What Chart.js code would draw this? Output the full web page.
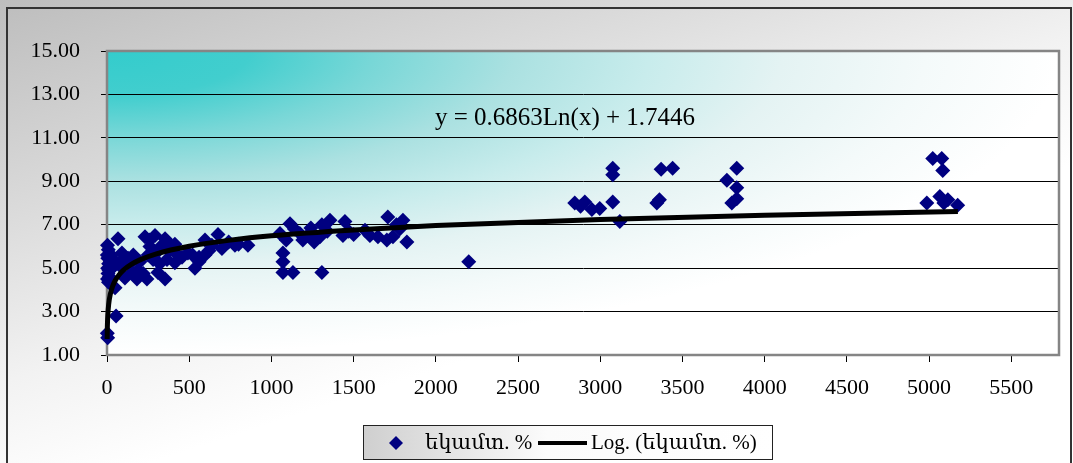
<!DOCTYPE html>
<html>
<head>
<meta charset="utf-8">
<script src="https://cdn.jsdelivr.net/npm/chart.js@4.4.0/dist/chart.umd.min.js"></script>
<style>
  html, body { margin: 0; padding: 0; background: #fff; }
  #wrap { width: 1073px; height: 463px; }
</style>
</head>
<body>
<div id="wrap"><canvas id="chart" width="1073" height="463"></canvas></div>
<script>
// scatter values
const incomeX = [
  3, 8, 2, 5, 10, 4, 12, 6, 3, 9, 15, 20, 25, 49, 55, 2, 4, 30, 40,
  67, 91, 110, 128, 152, 109, 182, 243, 188, 80, 140, 160, 200, 220,
  231, 260, 292, 353, 261, 334, 413, 280, 365, 353, 310, 456, 492, 413, 300, 380, 430, 320, 250, 370,
  535, 560, 596, 596, 638, 675, 699, 778, 857, 620, 560, 520, 740, 800,
  1052, 1070, 1070, 1070, 1131, 1113, 1090, 1173, 1191, 1240, 1260, 1295, 1307, 1356, 1307, 1340,
  1447, 1435, 1470, 1500, 1569, 1599, 1648, 1702, 1708, 1739, 1760, 1800, 1824, 1780, 1140, 1220,
  2200,
  2845, 2880, 2906, 2949, 2997, 3076, 3076, 3076, 3119,
  3344, 3360, 3370, 3440,
  3770, 3800, 3830, 3830, 3830,
  4986, 5022, 5077, 5083, 5065, 5114, 5174, 5090
]
const incomeY = [
  6.05, 5.85, 5.6, 5.45, 5.2, 5.0, 4.9, 4.75, 4.5, 4.35, 4.6, 5.3, 5.6, 4.1, 2.8, 2.0, 1.8, 5.0, 5.4,
  6.35, 5.7, 5.5, 5.45, 4.8, 4.55, 4.5, 4.5, 4.9, 5.1, 5.2, 5.6, 5.3, 4.75,
  6.45, 6.3, 6.5, 6.35, 6.0, 6.05, 6.1, 5.4, 5.4, 4.5, 4.8, 5.5, 5.7, 5.25, 5.7, 5.8, 5.6, 5.2, 5.6, 6.2,
  5.0, 5.3, 6.3, 5.6, 6.05, 6.55, 5.9, 6.05, 6.05, 5.8, 5.5, 5.6, 6.2, 6.1,
  6.6, 5.7, 5.3, 4.8, 4.8, 7.05, 6.3, 6.6, 6.3, 6.85, 6.2, 6.45, 7.0, 7.2, 4.8, 6.7,
  7.15, 6.5, 6.7, 6.55, 6.75, 6.5, 6.45, 6.3, 7.35, 6.45, 7.0, 7.2, 6.2, 6.8, 6.8, 6.5,
  5.3,
  8.0, 7.85, 8.05, 7.7, 7.75, 8.05, 9.6, 9.3, 7.15,
  8.0, 8.15, 9.55, 9.6,
  9.05, 8.0, 8.2, 8.7, 9.6,
  8.0, 10.05, 10.05, 9.5, 8.3, 8.15, 7.9, 8.0
]

// log trendline
const trendX = [1, 2, 3, 5, 10, 20, 35, 50, 75, 100, 150, 200, 300, 500, 750, 1000, 1500, 2000, 3000, 4000, 5175]
const trendY = [1.74, 2.22, 2.50, 2.85, 3.33, 3.80, 4.18, 4.43, 4.71, 4.91, 5.18, 5.38, 5.66, 6.01, 6.29, 6.49, 6.76, 6.96, 7.24, 7.44, 7.61]

const yTicks = [1, 3, 5, 7, 9, 11, 13, 15]
const xTicks = [0, 500, 1000, 1500, 2000, 2500, 3000, 3500, 4000, 4500, 5000, 5500]

const seriesLabel = 'եկամտ. %'
const trendLabel = 'Log. (եկամտ. %)'
const equation = 'y = 0.6863Ln(x) + 1.7446'

const FONT = "'Liberation Serif', 'DejaVu Serif', serif"
const NAVY = '#000080'

const toPoints = (xs, ys) => xs.map((x, i) => ({ x, y: ys[i] }))

const diamond = (ctx, x, y, r) => {
  ctx.beginPath()
  ctx.moveTo(x, y - r)
  ctx.lineTo(x + r, y)
  ctx.lineTo(x, y + r)
  ctx.lineTo(x - r, y)
  ctx.closePath()
  ctx.fill()
}

const backdrop = {
  id: 'backdrop',
  beforeDraw(chart) {
    const { ctx, width, height, chartArea: a } = chart
    ctx.save()
    // outer area
    const g = ctx.createLinearGradient(0, 0, 150, height)
    g.addColorStop(0, '#bdbdbd')
    g.addColorStop(0.4, '#d9d9d9')
    g.addColorStop(0.75, '#f2f2f2')
    g.addColorStop(1, '#ffffff')
    ctx.fillStyle = g
    ctx.fillRect(0, 0, width, height)
    ctx.strokeStyle = '#333'
    ctx.lineWidth = 2
    ctx.strokeRect(7, 8, width - 9, height + 10)

    // plot area: "from corner" fill, stretched to the box
    const W = a.right - a.left
    const H = a.bottom - a.top
    ctx.translate(a.left, a.top)
    ctx.scale(W / H, 1)
    const p = ctx.createRadialGradient(0, 0, 0, 0, 0, H)
    p.addColorStop(0, '#33cccc')
    p.addColorStop(0.15, '#42cece')
    p.addColorStop(0.28, '#78d7d7')
    p.addColorStop(0.43, '#abe1e1')
    p.addColorStop(0.57, '#c8ecec')
    p.addColorStop(0.71, '#e4f3f3')
    p.addColorStop(0.86, '#f4fafa')
    p.addColorStop(1, '#ffffff')
    ctx.fillStyle = p
    ctx.fillRect(0, 0, H, H)
    ctx.restore()
  },
  beforeDatasetsDraw(chart) {
    const { ctx, chartArea: a } = chart
    ctx.save()
    ctx.strokeStyle = '#858585'
    ctx.lineWidth = 2.5
    ctx.strokeRect(a.left, a.top, a.right - a.left, a.bottom - a.top)
    ctx.restore()
  },
  afterDraw(chart) {
    const { ctx } = chart
    ctx.save()
    ctx.textBaseline = 'middle'
    ctx.fillStyle = '#000'
    ctx.font = '25px ' + FONT
    ctx.fillText(equation, 435, 118)

    // legend box
    const lg = ctx.createLinearGradient(363, 0, 772, 0)
    lg.addColorStop(0, '#cfcfcf')
    lg.addColorStop(0.45, '#fbfbfb')
    lg.addColorStop(1, '#ffffff')
    ctx.fillStyle = lg
    ctx.fillRect(363, 425, 409, 34)
    ctx.strokeStyle = '#222'
    ctx.lineWidth = 1
    ctx.strokeRect(363.5, 425.5, 409, 34)

    ctx.font = '21px ' + FONT
    ctx.fillStyle = NAVY
    diamond(ctx, 396, 443, 7)
    ctx.fillStyle = '#000'
    ctx.fillText(seriesLabel, 425, 443)
    ctx.strokeStyle = '#000'
    ctx.lineWidth = 4
    ctx.beginPath()
    ctx.moveTo(538, 443)
    ctx.lineTo(587, 443)
    ctx.stroke()
    ctx.fillText(trendLabel, 591, 443)
    ctx.restore()
  }
}

new Chart(document.getElementById('chart'), {
  type: 'scatter',
  data: {
    datasets: [
      {
        label: seriesLabel,
        data: toPoints(incomeX, incomeY),
        pointStyle: 'rectRot',
        pointRadius: 7.5,
        pointHoverRadius: 7.5,
        backgroundColor: NAVY,
        borderColor: NAVY,
        borderWidth: 0,
        clip: false,
        order: 2
      },
      {
        label: trendLabel,
        type: 'line',
        data: toPoints(trendX, trendY),
        showLine: true,
        borderColor: '#000',
        borderWidth: 5,
        pointRadius: 0,
        cubicInterpolationMode: 'monotone',
        fill: false,
        clip: false,
        order: 1
      }
    ]
  },
  options: {
    responsive: false,
    animation: false,
    layout: { padding: { left: 0, top: 51, right: 14, bottom: 0 } },
    plugins: {
      legend: { display: false },
      tooltip: { enabled: false }
    },
    scales: {
      x: {
        type: 'linear',
        min: 0,
        max: 5790,
        afterBuildTicks: (scale) => { scale.ticks = xTicks.map(v => ({ value: v })) },
        afterFit: (scale) => { scale.height = 108 },
        border: { color: '#555', width: 2 },
        grid: {
          drawOnChartArea: false,
          drawTicks: true,
          tickLength: 7,
          tickColor: '#000'
        },
        ticks: {
          color: '#000',
          font: { family: FONT, size: 22 },
          padding: 13,
          maxRotation: 0,
          autoSkip: false,
          callback: (v) => String(v)
        }
      },
      y: {
        min: 1,
        max: 15,
        afterBuildTicks: (scale) => { scale.ticks = yTicks.map(v => ({ value: v })) },
        afterFit: (scale) => { scale.width = 107 },
        border: { color: '#555', width: 2 },
        grid: {
          color: '#000',
          lineWidth: 1,
          drawTicks: true,
          tickLength: 6,
          tickColor: '#000'
        },
        ticks: {
          color: '#000',
          font: { family: FONT, size: 22 },
          padding: 21,
          callback: (v) => v.toFixed(2)
        }
      }
    }
  },
  plugins: [backdrop]
})
</script>
</body>
</html>
